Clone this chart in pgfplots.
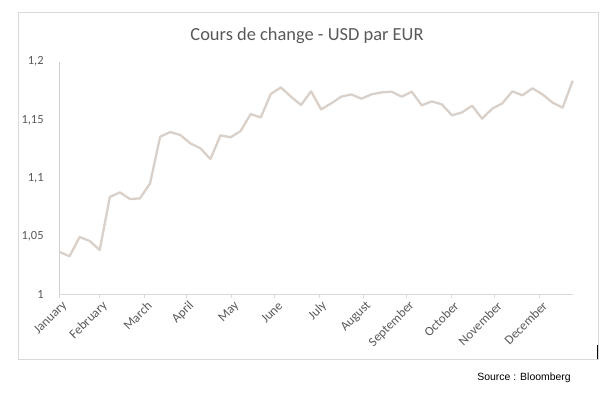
\documentclass[border=0pt]{standalone}
\usepackage{pgfplots}
\pgfplotsset{compat=1.18}
\usepackage{fontspec}
\setmainfont{Carlito}
\newfontfamily\arialfont{Liberation Sans}
\definecolor{txt}{HTML}{595959}
\definecolor{axgray}{HTML}{D9D9D9}
\definecolor{yaxc}{RGB}{214,207,201}
\definecolor{linec}{RGB}{216,208,201}
\begin{document}
\begin{tikzpicture}[x=1bp,y=1bp]
\path[use as bounding box] (0,0) rectangle (616,392);
\draw[axgray, line width=0.75bp] (18,33) rectangle (598,379.3);
\draw[black, line width=1bp] (597.5,33) -- (597.5,47);
\node[txt, font=\fontsize{18.5}{20}\selectfont] at (307,356) {Cours de change - USD par EUR};
\node[anchor=east, font=\arialfont\fontsize{10.5}{12}\selectfont, inner sep=0pt] at (571,14.7) {Source : Bloomberg};
\begin{axis}[
  at={(59.5bp,97.7bp)}, anchor=south west,
  scale only axis, width=513.2bp, height=232.6bp,
  xmin=0, xmax=51, ymin=1, ymax=1.2,
  axis x line*=bottom, axis y line*=left,
  x axis line style={draw=axgray, line width=0.75bp},
  y axis line style={draw=yaxc, line width=0.75bp},
  ytick={1,1.05,1.1,1.15,1.2},
  ytick style={draw=none},
  yticklabel style={txt, font=\fontsize{12.5}{14}\selectfont, inner sep=0pt, xshift=-12bp},
  /pgf/number format/assume math mode=true,
  /pgf/number format/use comma,
  /pgf/number format/fixed,
  xtick={0,4,8.4,12.6,17.1,21.4,25.8,30.2,34.5,38.9,43.2,47.7},
  xticklabels={January,February,March,April,May,June,July,August,September,October,November,December},
  tick align=outside,
  major tick length=3.7bp,
  xtick style={draw=axgray, line width=0.75bp},
  xticklabel style={txt, font=\fontsize{13}{14}\selectfont, rotate=45, anchor=east, inner sep=1bp, yshift=-8bp, xshift=1bp},
  clip=false,
]
\addplot[linec, line width=2.3bp, line join=round, mark=none] coordinates {
(0,1.0364) (1,1.0327) (2,1.0493) (3,1.0458) (4,1.0381) (5,1.0837) (6,1.0877) (7,1.0819)
(8,1.0825) (9,1.0954) (10,1.1355) (11,1.1395) (12,1.1370) (13,1.1298) (14,1.1255) (15,1.1163)
(16,1.1367) (17,1.1350) (18,1.1404) (19,1.1550) (20,1.1521) (21,1.1722) (22,1.1779) (23,1.1699)
(24,1.1628) (25,1.1745) (26,1.1590) (27,1.1642) (28,1.1699) (29,1.1719) (30,1.1682) (31,1.1719)
(32,1.1736) (33,1.1742) (34,1.1699) (35,1.1742) (36,1.1625) (37,1.1659) (38,1.1633) (39,1.1539)
(40,1.1564) (41,1.1622) (42,1.1510) (43,1.1596) (44,1.1642) (45,1.1745) (46,1.1711) (47,1.1771)
(48,1.1719) (49,1.1648) (50,1.1605) (51,1.1837)
};
\end{axis}
\end{tikzpicture}
\end{document}
